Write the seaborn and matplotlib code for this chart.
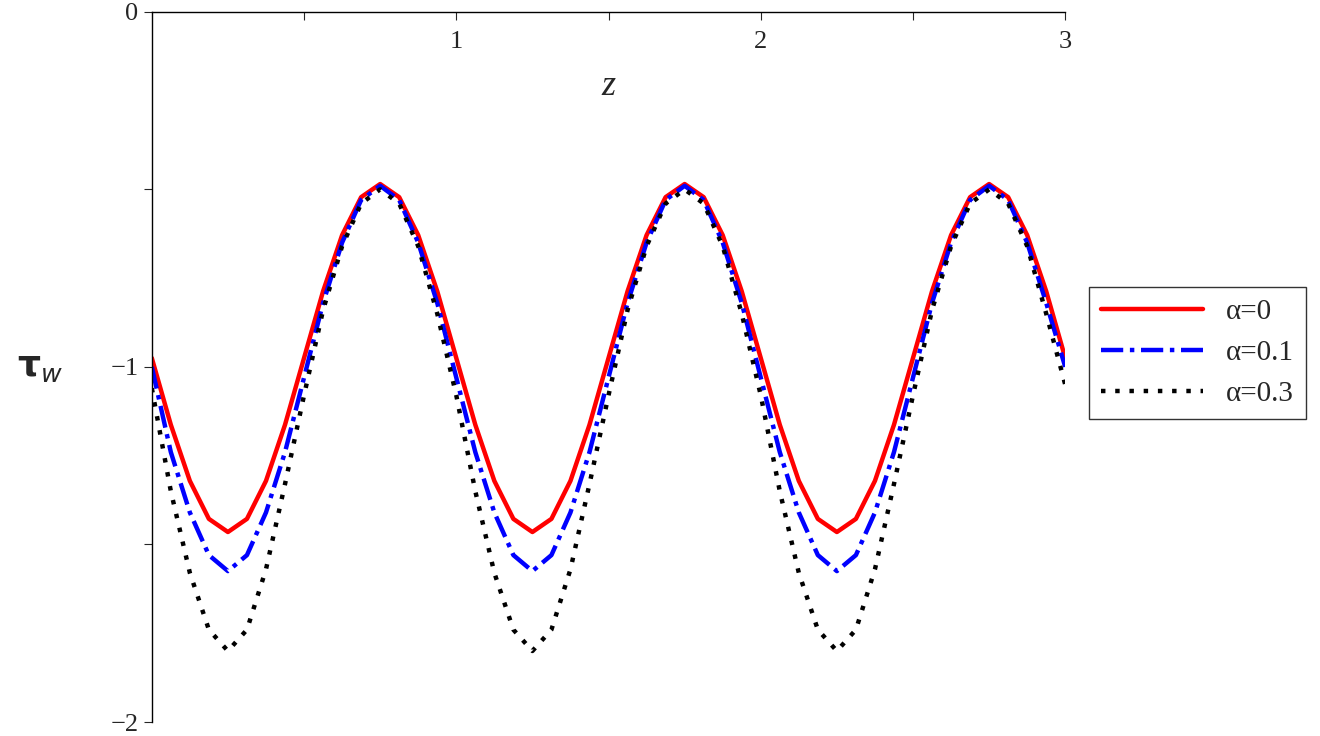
import matplotlib
matplotlib.use("Agg")
import matplotlib.pyplot as plt
import seaborn as sns
import pandas as pd

z = [i / 16 for i in range(49)]
red = [-0.975, -1.163, -1.321, -1.428, -1.465, -1.428, -1.321, -1.163, -0.975, -0.787, -0.629, -0.522, -0.485, -0.522, -0.629, -0.787,
       -0.975, -1.163, -1.321, -1.428, -1.465, -1.428, -1.321, -1.163, -0.975, -0.787, -0.629, -0.522, -0.485, -0.522, -0.629, -0.787,
       -0.975, -1.163, -1.321, -1.428, -1.465, -1.428, -1.321, -1.163, -0.975, -0.787, -0.629, -0.522, -0.485, -0.522, -0.629, -0.787, -0.975]
blue = [-1.00, -1.24, -1.41, -1.53, -1.575, -1.53, -1.41, -1.24, -1.03, -0.82, -0.65, -0.53, -0.49, -0.53, -0.65, -0.82,
        -1.03, -1.24, -1.41, -1.53, -1.575, -1.53, -1.41, -1.24, -1.03, -0.82, -0.65, -0.53, -0.49, -0.53, -0.65, -0.82,
        -1.03, -1.24, -1.41, -1.53, -1.575, -1.53, -1.41, -1.24, -1.03, -0.82, -0.65, -0.53, -0.49, -0.53, -0.65, -0.82, -1.00]
black = [-1.06, -1.35, -1.58, -1.74, -1.80, -1.74, -1.57, -1.33, -1.08, -0.84, -0.66, -0.54, -0.50, -0.54, -0.66, -0.85,
         -1.08, -1.35, -1.58, -1.74, -1.80, -1.74, -1.57, -1.33, -1.08, -0.84, -0.66, -0.54, -0.50, -0.54, -0.66, -0.85,
         -1.08, -1.35, -1.58, -1.74, -1.80, -1.74, -1.57, -1.33, -1.08, -0.84, -0.66, -0.54, -0.50, -0.54, -0.66, -0.85, -1.05]
labels = ["α=0", "α=0.1", "α=0.3"]

sns.set_style("white")
plt.rcParams['font.family'] = ['Liberation Serif', 'DejaVu Serif']
fig = plt.figure(figsize=(13.2, 7.36), dpi=100)
ax = fig.add_axes([0.115, 0.019, 0.692, 0.965])

styles = [dict(color="#ff0000", linestyle="-"),
          dict(color="#0000ff", linestyle=(0, (5, 1.5, 1, 1.5))),
          dict(color="black", linestyle=(0, (1, 2.2)))]
for ys, lab, st in zip([red, blue, black], labels, styles):
    df = pd.DataFrame({"z": z, "t": ys})
    sns.lineplot(data=df, x="z", y="t", ax=ax, label=lab, linewidth=3.2, **st)

ax.set_xlim(0, 3)
ax.set_ylim(-2, 0)
for s in ["right", "bottom"]:
    ax.spines[s].set_visible(False)
for s in ["left", "top"]:
    ax.spines[s].set_color("black")
    ax.spines[s].set_linewidth(1)
ax.spines["top"].set_position(("data", 0))
ax.xaxis.set_ticks_position("top")
ax.set_xticks([0.5, 1, 1.5, 2, 2.5, 3])
ax.set_xticklabels(["", "1", "", "2", "", "3"])
ax.tick_params(axis="x", direction="in", length=6, pad=-30, labelsize=19, labeltop=True, labelbottom=False)
ax.set_yticks([0, -0.5, -1, -1.5, -2])
ax.set_yticklabels(["0", "", "−1", "", "−2"])
ax.tick_params(axis="y", direction="out", length=6, labelsize=19, left=True)
ax.set_xlabel("")
ax.set_ylabel("")
ax.text(1.5, -0.21, "z", fontsize=26, style="italic", ha="center", va="center")
fig.text(0.03, 0.5, r"$\mathbf{\tau}_w$", fontsize=26, ha="center", va="center")
ax.legend(loc="center left", bbox_to_anchor=(1.01, 0.52), fontsize=21, frameon=True,
          fancybox=False, edgecolor="black", handlelength=3.5)
fig.savefig("out.png", dpi=100)
